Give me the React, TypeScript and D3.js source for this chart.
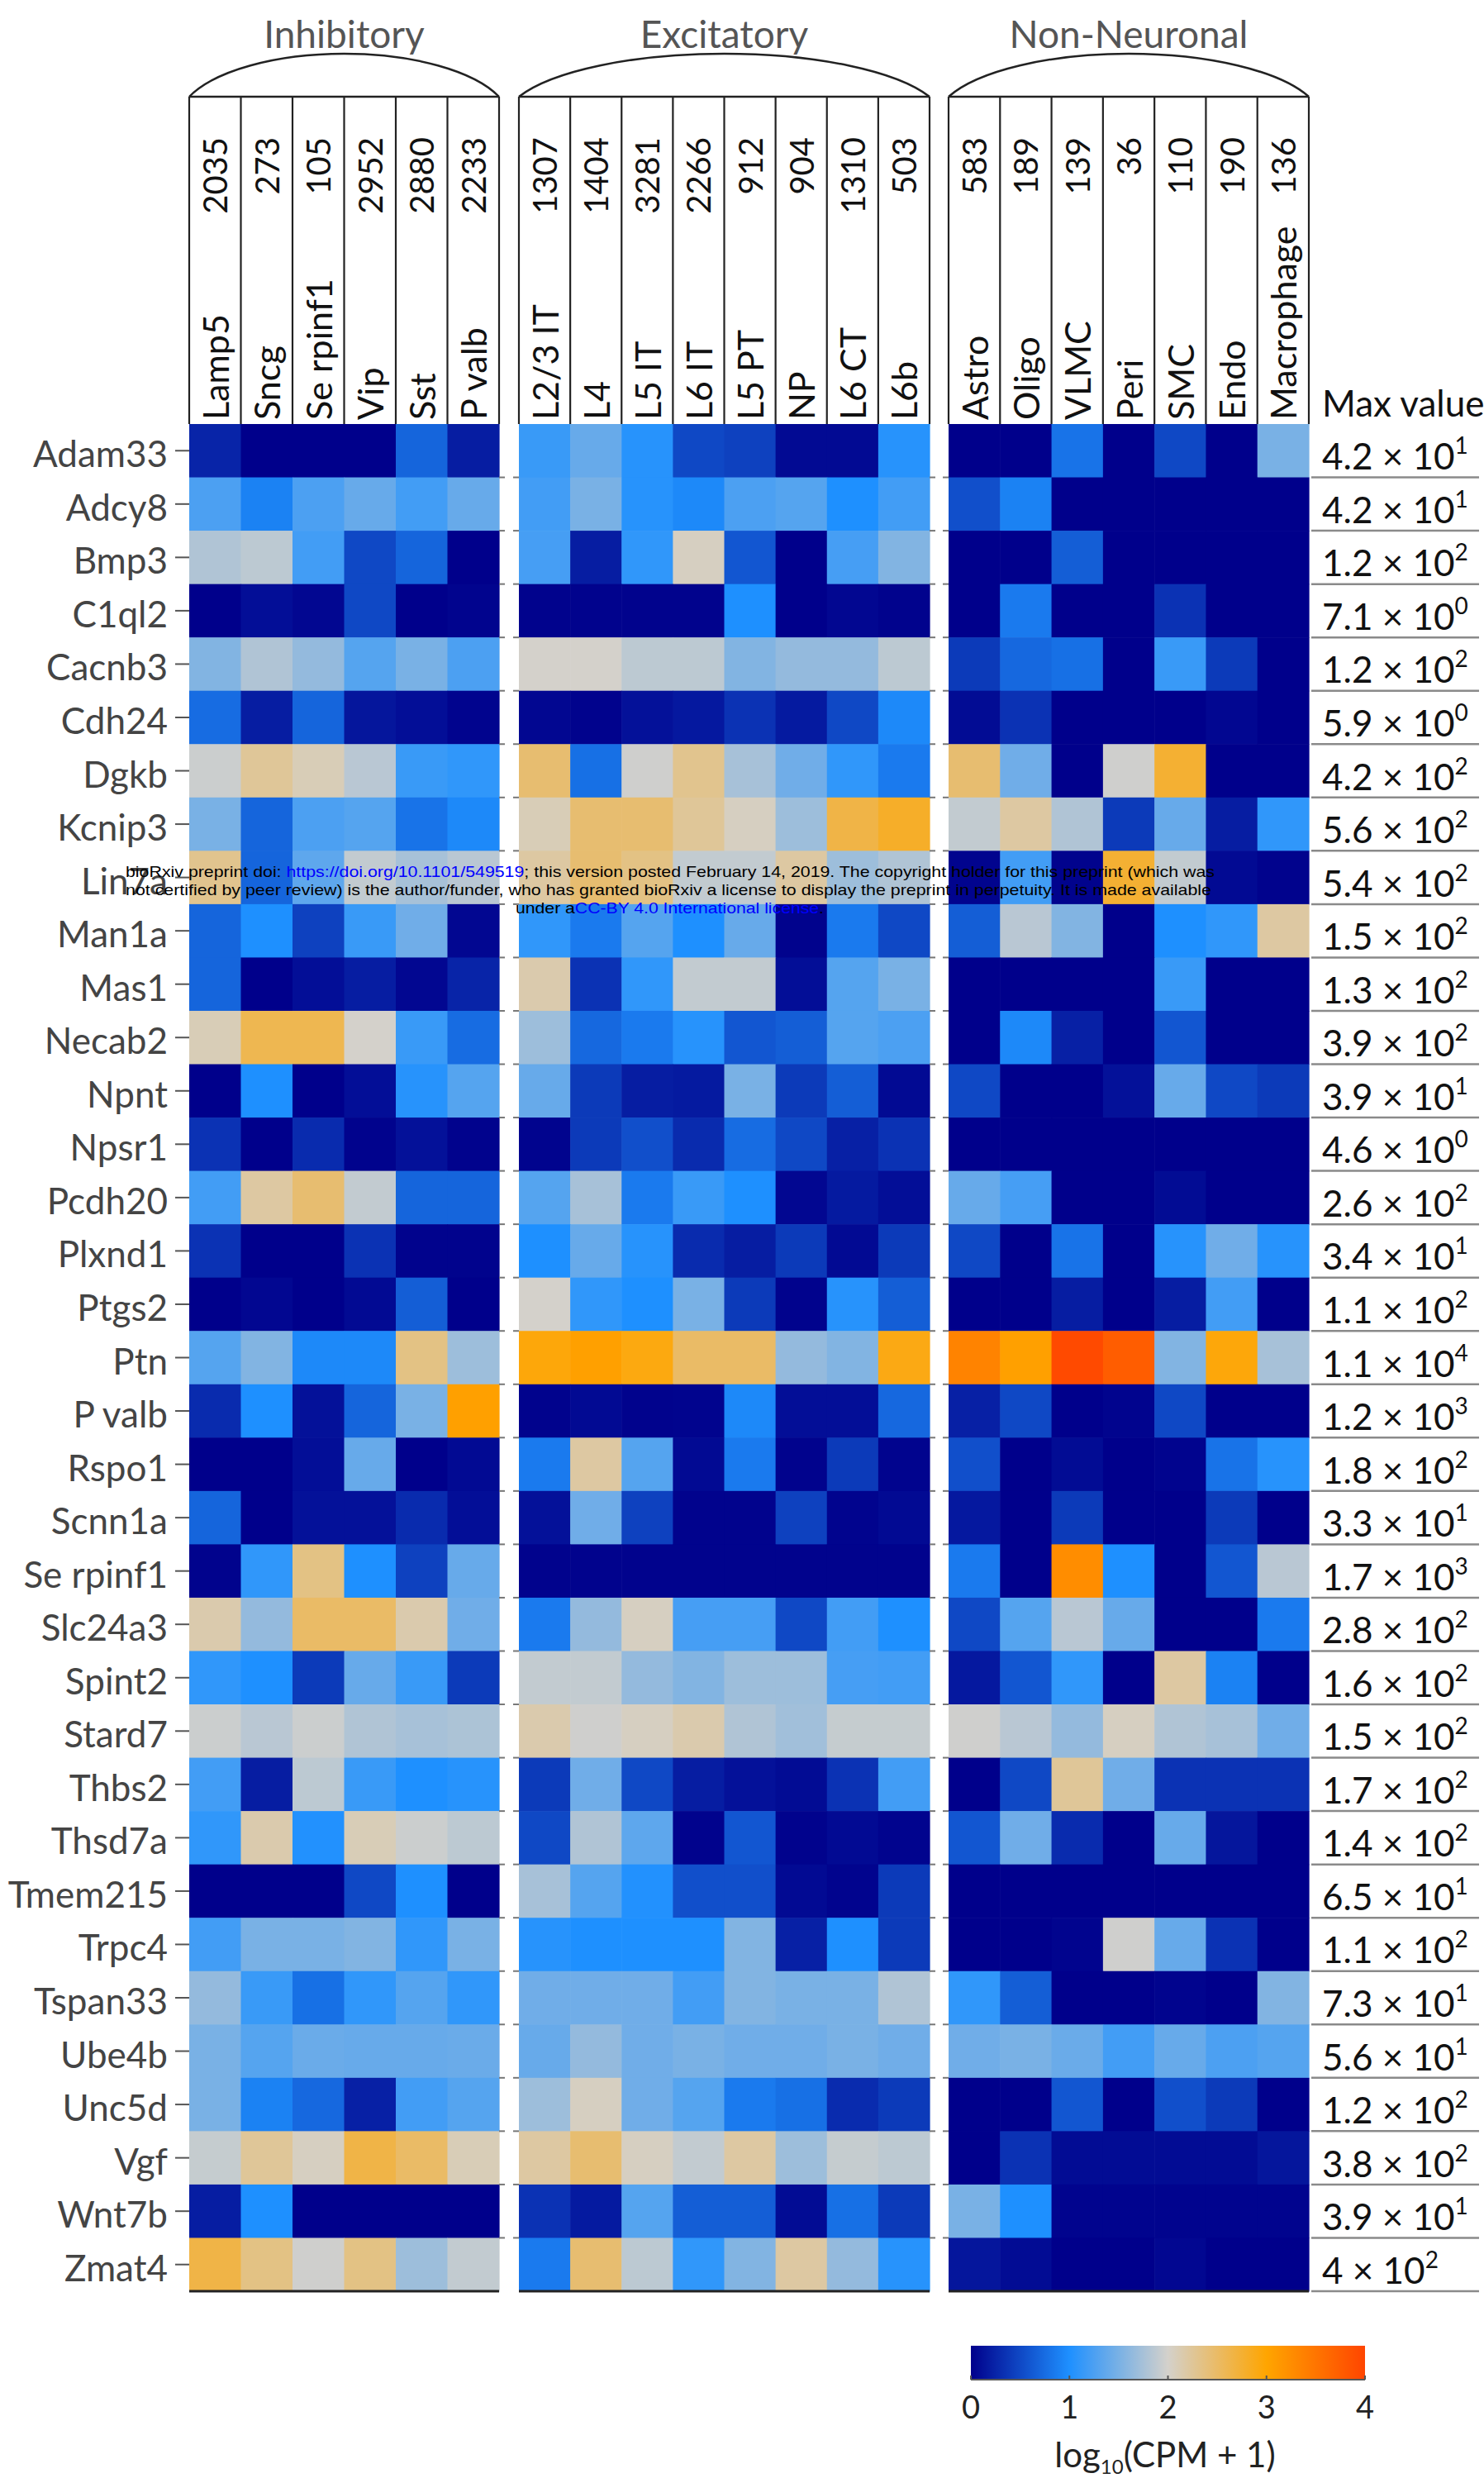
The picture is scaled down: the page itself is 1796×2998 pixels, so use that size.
import React from 'react';
import * as d3 from 'd3';

const genes = ['Adam33','Adcy8','Bmp3','C1ql2','Cacnb3','Cdh24','Dgkb','Kcnip3','Lin7a','Man1a','Mas1','Necab2','Npnt','Npsr1','Pcdh20','Plxnd1','Ptgs2','Ptn','P valb','Rspo1','Scnn1a','Se rpinf1','Slc24a3','Spint2','Stard7','Thbs2','Thsd7a','Tmem215','Trpc4','Tspan33','Ube4b','Unc5d','Vgf','Wnt7b','Zmat4'];

const inhibitoryTypes = ['Lamp5','Sncg','Se rpinf1','Vip','Sst','P valb'];
const inhibitoryCounts = ['2035','273','105','2952','2880','2233'];
const excitatoryTypes = ['L2/3 IT','L4','L5 IT','L6 IT','L5 PT','NP','L6 CT','L6b'];
const excitatoryCounts = ['1307','1404','3281','2266','912','904','1310','503'];
const nonNeuronalTypes = ['Astro','Oligo','VLMC','Peri','SMC','Endo','Macrophage'];
const nonNeuronalCounts = ['583','189','139','36','110','190','136'];

const inhibitoryValues = [
  [0.25,0,0,0,0.7,0.2],
  [1.25,0.9,1.25,1.4,1.2,1.4],
  [1.8,1.87,1.2,0.5,0.7,0],
  [0,0.1,0.05,0.5,0,0.03],
  [1.55,1.8,1.65,1.3,1.5,1.25],
  [0.75,0.2,0.7,0.15,0.1,0.03],
  [1.95,2.25,2.1,1.85,1.15,1.1],
  [1.5,0.7,1.25,1.3,0.8,0.95],
  [2.3,0.7,1.35,1.9,1.75,1.85],
  [0.7,1.0,0.45,1.15,1.45,0.05],
  [0.7,0,0.1,0.2,0.05,0.25],
  [2.1,2.6,2.6,2.0,1.15,0.75],
  [0,1.0,0,0.1,1.05,1.3],
  [0.35,0,0.3,0.02,0.12,0.02],
  [1.2,2.2,2.45,1.9,0.7,0.7],
  [0.35,0,0,0.35,0.02,0.02],
  [0,0.05,0,0.07,0.65,0],
  [1.3,1.55,0.95,0.95,2.35,1.7],
  [0.3,1.0,0.12,0.7,1.5,3.05],
  [0,0,0.1,1.4,0,0.07],
  [0.7,0,0.12,0.12,0.3,0.1],
  [0.02,1.1,2.35,1.0,0.45,1.4],
  [2.15,1.65,2.5,2.5,2.15,1.45],
  [1.1,1.0,0.4,1.4,1.15,0.4],
  [1.95,1.85,1.95,1.8,1.75,1.78],
  [1.2,0.2,1.87,1.15,1.0,1.05],
  [1.1,2.15,1.02,2.1,1.95,1.87],
  [0,0,0,0.5,1.0,0],
  [1.2,1.5,1.5,1.55,1.1,1.5],
  [1.65,1.15,0.78,1.1,1.3,1.1],
  [1.5,1.3,1.42,1.4,1.4,1.42],
  [1.5,0.9,0.72,0.22,1.2,1.3],
  [1.92,2.25,2.05,2.65,2.5,2.1],
  [0.2,1.0,0,0,0,0],
  [2.65,2.35,1.97,2.35,1.7,1.9],
];

const excitatoryValues = [
  [1.15,1.4,1.05,0.5,0.45,0.07,0.07,1.05],
  [1.2,1.5,1.05,0.95,1.25,1.3,1.0,1.2],
  [1.22,0.2,1.1,2.05,0.6,0,1.22,1.55],
  [0.02,0.02,0.02,0.02,1.0,0,0.05,0.02],
  [2.0,2.0,1.87,1.87,1.55,1.65,1.65,1.87],
  [0.05,0.02,0.12,0.17,0.35,0.18,0.5,0.95],
  [2.45,0.78,1.97,2.3,1.75,1.45,1.1,0.85],
  [2.1,2.45,2.45,2.25,2.05,1.7,2.65,2.8],
  [2.2,2.45,2.35,1.9,1.9,2.2,1.7,1.8],
  [1.1,0.85,1.3,1.0,1.4,0.02,0.85,0.5],
  [2.15,0.35,1.1,1.9,1.9,0.1,1.3,1.5],
  [1.7,0.72,0.85,1.05,0.6,0.65,1.3,1.25],
  [1.4,0.4,0.2,0.18,1.5,0.4,0.65,0.07],
  [0.03,0.4,0.55,0.3,0.75,0.5,0.22,0.35],
  [1.3,1.75,0.85,1.15,1.0,0.05,0.18,0.1],
  [1.0,1.4,1.05,0.3,0.2,0.4,0.07,0.4],
  [2.0,1.1,1.0,1.5,0.4,0.02,1.05,0.65],
  [2.95,3.05,2.92,2.5,2.5,1.65,1.55,2.9],
  [0.02,0.07,0.02,0.03,0.95,0.1,0.1,0.72],
  [0.85,2.2,1.3,0.07,0.85,0.02,0.4,0.03],
  [0.12,1.45,0.45,0.02,0.02,0.45,0.03,0.07],
  [0.02,0.02,0.02,0.02,0.02,0.02,0.02,0.02],
  [0.85,1.65,2.05,1.22,1.22,0.5,1.2,1.0],
  [1.9,1.9,1.65,1.55,1.7,1.7,1.22,1.2],
  [2.15,1.97,2.05,2.15,1.8,1.72,1.92,1.92],
  [0.4,1.45,0.5,0.2,0.12,0.08,0.35,1.2],
  [0.5,1.8,1.35,0.02,0.6,0.02,0.07,0.03],
  [1.75,1.3,1.02,0.55,0.55,0.07,0.03,0.4],
  [1.05,1.0,1.0,1.0,1.55,0.22,1.0,0.4],
  [1.45,1.45,1.45,1.2,1.55,1.5,1.5,1.8],
  [1.4,1.65,1.45,1.5,1.45,1.45,1.5,1.45],
  [1.7,2.05,1.45,1.3,0.85,0.78,0.3,0.4],
  [2.2,2.45,2.05,1.9,2.2,1.7,1.92,1.87],
  [0.35,0.18,1.3,0.65,0.65,0.08,0.78,0.4],
  [0.85,2.45,1.87,1.1,1.55,2.2,1.65,1.05],
];

const nonNeuronalValues = [
  [0,0,0.8,0,0.5,0,1.5],
  [0.55,0.9,0,0,0,0,0],
  [0,0,0.65,0,0,0,0],
  [0,0.85,0,0,0.35,0,0],
  [0.4,0.72,0.78,0,1.15,0.4,0],
  [0.08,0.35,0,0,0,0.05,0],
  [2.45,1.45,0,1.97,2.75,0,0],
  [1.9,2.2,1.8,0.4,1.4,0.2,1.1],
  [0.03,1.2,0.02,2.75,1.9,0.07,0.02],
  [0.65,1.85,1.55,0,1.0,1.1,2.2],
  [0,0,0,0,1.15,0,0],
  [0,0.95,0.22,0,0.6,0,0],
  [0.5,0,0,0.12,1.4,0.5,0.4],
  [0,0,0,0,0,0,0],
  [1.4,1.22,0,0,0.08,0,0],
  [0.5,0,0.8,0,1.05,1.45,1.05],
  [0,0,0.2,0,0.2,1.2,0],
  [3.35,3.05,3.95,3.75,1.55,2.95,1.75],
  [0.22,0.5,0,0.03,0.5,0,0],
  [0.55,0,0.08,0,0.03,0.8,1.05],
  [0.17,0,0.4,0,0,0.4,0],
  [0.85,0,3.25,1.0,0,0.6,1.85],
  [0.5,1.3,1.85,1.4,0,0,0.85],
  [0.17,0.6,1.1,0,2.2,0.9,0],
  [1.97,1.85,1.65,2.05,1.8,1.75,1.45],
  [0,0.5,2.25,1.45,0.35,0.35,0.35],
  [0.6,1.45,0.3,0,1.4,0.15,0],
  [0,0,0,0,0,0,0],
  [0,0,0.03,1.97,1.4,0.35,0],
  [1.1,0.65,0,0,0.03,0,1.55],
  [1.45,1.5,1.42,1.2,1.4,1.25,1.3],
  [0,0,0.6,0,0.55,0.4,0],
  [0,0.35,0.08,0.08,0.08,0.08,0.15],
  [1.5,1.0,0.03,0.03,0.03,0.03,0.03],
  [0.15,0.08,0,0,0.05,0,0],
];

const maxMantissa = ['4.2','4.2','1.2','7.1','1.2','5.9','4.2','5.6','5.4','1.5','1.3','3.9','3.9','4.6','2.6','3.4','1.1','1.1','1.2','1.8','3.3','1.7','2.8','1.6','1.5','1.7','1.4','6.5','1.1','7.3','5.6','1.2','3.8','3.9','4'];
const maxExponent = ['1','1','2','0','2','0','2','2','2','2','2','2','1','0','2','1','2','4','3','2','1','3','2','2','2','2','2','1','2','1','1','2','2','1','2'];

const colorTicks = [0, 1, 2, 3, 4];
const colorStops = ['#00008B', '#1E90FF', '#D4D1CB', '#FFA500', '#FF4500'];

const FONT = "Lato, 'Open Sans', sans-serif";

export default function App() {
  const color = d3.scaleLinear<string>().domain(colorTicks).range(colorStops).clamp(true);
  const y = d3.scaleBand<string>().domain(genes).range([513, 2772]);
  const groups = [
    { name: 'Inhibitory', types: inhibitoryTypes, counts: inhibitoryCounts, values: inhibitoryValues, x0: 229, x1: 604 },
    { name: 'Excitatory', types: excitatoryTypes, counts: excitatoryCounts, values: excitatoryValues, x0: 628, x1: 1125 },
    { name: 'Non-Neuronal', types: nonNeuronalTypes, counts: nonNeuronalCounts, values: nonNeuronalValues, x0: 1148, x1: 1584 },
  ].map((g) => ({ ...g, x: d3.scaleBand<string>().domain(g.types).range([g.x0, g.x1]) }));

  const headerTop = 117;
  const heatTop = 513;
  const heatBottom = 2772;
  const bh = y.bandwidth();
  const cb = d3.scaleLinear().domain([0, 4]).range([1175, 1652]);
  const gradStops = d3.range(0, 4.001, 0.25);

  const arcPath = (x0: number, x1: number) => {
    const k = 0.93;
    const rx = (x1 - x0) / 2 / k;
    const ry = 52 / (1 - Math.sqrt(1 - k * k));
    return `M${x0},${headerTop} A${rx},${ry} 0 0 1 ${x1},${headerTop}`;
  };

  const rowBoundaries = d3.range(1, genes.length + 1).map((i) => heatTop + i * bh);

  return (
    <svg width={1796} height={2998} style={{ position: 'absolute', left: 0, top: 0, background: '#fff' }} fontFamily={FONT}>
      <defs>
        <linearGradient id="cbar" x1="0" x2="1" y1="0" y2="0">
          {gradStops.map((v) => (
            <stop key={v} offset={`${(v / 4) * 100}%`} stopColor={color(v)} />
          ))}
        </linearGradient>
      </defs>
      <rect x={0} y={0} width={1796} height={2998} fill="#fff" />

      {/* header */}
      {groups.map((g) => (
        <g key={g.name}>
          <text x={(g.x0 + g.x1) / 2} y={58} textAnchor="middle" fontSize={46} fill="#555">{g.name}</text>
          <path d={arcPath(g.x0, g.x1)} fill="none" stroke="#222" strokeWidth={2.5} />
          <line x1={g.x0} x2={g.x1} y1={headerTop} y2={headerTop} stroke="#222" strokeWidth={2.5} />
          {d3.range(g.types.length + 1).map((i) => {
            const xx = g.x0 + i * g.x.bandwidth();
            return <line key={i} x1={xx} x2={xx} y1={headerTop} y2={heatTop} stroke="#222" strokeWidth={2.2} />;
          })}
          {g.types.map((t, i) => {
            const cx = (g.x(t) as number) + g.x.bandwidth() / 2;
            return (
              <g key={t}>
                <text transform={`translate(${cx},166) rotate(-90)`} textAnchor="end" dominantBaseline="central" fontSize={40} fill="#111">{g.counts[i]}</text>
                <text transform={`translate(${cx},508) rotate(-90)`} textAnchor="start" dominantBaseline="central" fontSize={43} fill="#111">{t}</text>
              </g>
            );
          })}
        </g>
      ))}
      <text x={1600} y={504} fontSize={44} fill="#111">Max value</text>

      {/* heatmap cells */}
      {groups.map((g) => (
        <g key={g.name + '-cells'}>
          {genes.map((gene, r) =>
            g.types.map((t, c) => (
              <rect key={gene + t} x={g.x(t) as number} y={y(gene) as number} width={g.x.bandwidth() + 0.6} height={bh + 0.6} fill={color(g.values[r][c])} />
            ))
          )}
          <line x1={g.x0} x2={g.x1} y1={heatBottom} y2={heatBottom} stroke="#222" strokeWidth={3} />
        </g>
      ))}

      {/* gap ticks at row boundaries */}
      {[[604, 628], [1125, 1148]].map(([a, b]) => (
        <g key={a}>
          {rowBoundaries.slice(0, -1).map((yy) => (
            <g key={yy}>
              <line x1={a} x2={a + 7} y1={yy} y2={yy} stroke="#777" strokeWidth={2} />
              <line x1={b - 7} x2={b} y1={yy} y2={yy} stroke="#777" strokeWidth={2} />
            </g>
          ))}
        </g>
      ))}

      {/* gene labels and left ticks */}
      {genes.map((gene) => {
        const cy = (y(gene) as number) + bh / 2;
        return (
          <g key={gene}>
            <text x={203} y={cy + 20} textAnchor="end" fontSize={44} fill="#444">{gene}</text>
            <line x1={212} x2={229} y1={cy} y2={cy} stroke="#555" strokeWidth={2} />
          </g>
        );
      })}

      {/* max values */}
      {genes.map((gene, i) => {
        const cy = (y(gene) as number) + bh / 2;
        return (
          <text key={gene + 'max'} x={1600} y={cy + 23} fontSize={44} fill="#111">
            {maxMantissa[i]} {'\u00d7'} 10
            <tspan dy={-19} fontSize={28}>{maxExponent[i]}</tspan>
          </text>
        );
      })}
      {rowBoundaries.map((yy) => (
        <line key={'sep' + yy} x1={1587} x2={1790} y1={yy} y2={yy} stroke="#8a8a8a" strokeWidth={2.5} />
      ))}

      {/* colorbar */}
      <rect x={cb(0)} y={2838} width={cb(4) - cb(0)} height={41} fill="url(#cbar)" />
      <line x1={cb(0)} x2={cb(4)} y1={2879} y2={2879} stroke="#555" strokeWidth={2} />
      {colorTicks.map((t) => (
        <g key={'cbt' + t}>
          <line x1={cb(t)} x2={cb(t)} y1={2874} y2={2879} stroke="#555" strokeWidth={2} />
          <text x={cb(t)} y={2926} textAnchor="middle" fontSize={38} fill="#222">{t}</text>
        </g>
      ))}
      <text x={1410} y={2985} textAnchor="middle" fontSize={42} fill="#222">
        log<tspan fontSize={24} dy={8}>10</tspan><tspan dy={-8}>(CPM + 1)</tspan>
      </text>

      {/* watermark */}
      <g fontFamily="'Liberation Sans', Arial, sans-serif" fontSize={19} fill="#000">
        <text x={152} y={1061} textLength={1318} lengthAdjust="spacingAndGlyphs">
          bioRxiv preprint doi: <tspan fill="#0000ff">https://doi.org/10.1101/549519</tspan>; this version posted February 14, 2019. The copyright holder for this preprint (which was
        </text>
        <text x={152} y={1083} textLength={1314} lengthAdjust="spacingAndGlyphs">
          not certified by peer review) is the author/funder, who has granted bioRxiv a license to display the preprint in perpetuity. It is made available
        </text>
        <text x={624} y={1105} textLength={373} lengthAdjust="spacingAndGlyphs">
          under a<tspan fill="#0000ff">CC-BY 4.0 International license</tspan>.
        </text>
      </g>
    </svg>
  );
}
